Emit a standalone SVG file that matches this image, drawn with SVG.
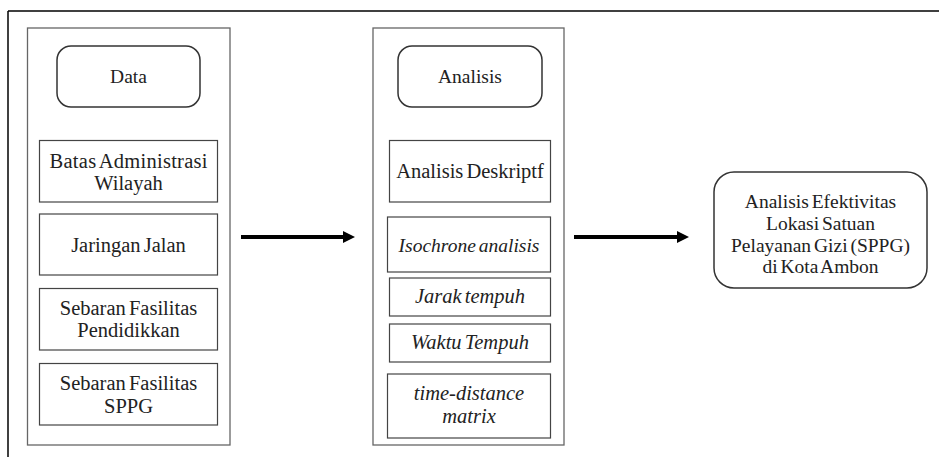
<svg xmlns="http://www.w3.org/2000/svg" width="939" height="457" viewBox="0 0 939 457">
<style>
.col{fill:#fff;stroke:#666;stroke-width:1.3}
.box{fill:#fff;stroke:#444;stroke-width:1.2}
.rbox{fill:#fff;stroke:#333;stroke-width:1.5}
.frame{stroke:#000;stroke-width:1.5;fill:none}
.conn{stroke:#000;stroke-width:4;fill:none}
text{font-family:"Liberation Serif","Times New Roman",serif;font-size:20.5px;fill:#222;text-anchor:middle;word-spacing:-2px}
.it{font-style:italic}
.sm{font-size:19.5px}
</style>
<defs>
<marker id="ah" markerWidth="4" markerHeight="4" refX="1" refY="2" orient="auto" markerUnits="strokeWidth">
<path d="M0,0.5 L3,2 L0,3.5 Z" fill="#000"/>
</marker>
</defs>
<g id="frame">
<line class="frame" x1="8" y1="11" x2="939" y2="11"/>
<line class="frame" x1="8" y1="11" x2="8" y2="457"/>
</g>
<g id="col-data">
<rect class="col" x="27.5" y="28" width="202.5" height="417"/>
</g>
<g id="col-analisis">
<rect class="col" x="373" y="28" width="191" height="417"/>
</g>
<g id="data">
<rect class="rbox" x="57" y="46" width="143" height="61" rx="14"/>
<text class="sm" x="128.5" y="83">Data</text>
</g>
<g id="batas">
<rect class="box" x="39.5" y="140.5" width="178" height="61.5"/>
<text x="128.5" y="168" textLength="158" lengthAdjust="spacing">Batas Administrasi</text>
<text x="128.5" y="190">Wilayah</text>
</g>
<g id="jaringan">
<rect class="box" x="39.5" y="214" width="178" height="61"/>
<text x="128.5" y="252">Jaringan Jalan</text>
</g>
<g id="pendidikan">
<rect class="box" x="39.5" y="288.5" width="178" height="61.5"/>
<text x="128.5" y="315">Sebaran Fasilitas</text>
<text x="128.5" y="337">Pendidikkan</text>
</g>
<g id="sppg">
<rect class="box" x="39.5" y="363.5" width="178" height="61.5"/>
<text x="128.5" y="390">Sebaran Fasilitas</text>
<text x="128.5" y="413">SPPG</text>
</g>
<g id="analisis">
<rect class="rbox" x="398" y="46" width="144" height="61" rx="14"/>
<text class="sm" x="470" y="83">Analisis</text>
</g>
<g id="deskriptif">
<rect class="box" x="389.5" y="140.5" width="161" height="61.5"/>
<text x="470" y="178">Analisis Deskriptf</text>
</g>
<g id="isochrone">
<rect class="box" x="387.5" y="217" width="163" height="55"/>
<text class="it sm" x="469" y="252">Isochrone analisis</text>
</g>
<g id="jarak">
<rect class="box" x="389.5" y="278" width="161" height="38"/>
<text class="it" x="470" y="303">Jarak tempuh</text>
</g>
<g id="waktu">
<rect class="box" x="389.5" y="324" width="161" height="38"/>
<text class="it" x="470" y="349">Waktu Tempuh</text>
</g>
<g id="matrix">
<rect class="box" x="387.5" y="374" width="163" height="64"/>
<text class="it" x="469" y="400">time-distance</text>
<text class="it" x="469" y="423">matrix</text>
</g>
<g id="hasil">
<rect class="rbox" x="714" y="172" width="213" height="116" rx="20"/>
<text class="sm" x="820.5" y="208">Analisis Efektivitas</text>
<text class="sm" x="820.5" y="230">Lokasi Satuan</text>
<text class="sm" x="820.5" y="252">Pelayanan Gizi (SPPG)</text>
<text class="sm" x="820.5" y="273">di Kota Ambon</text>
</g>
<g id="connectors">
<line class="conn" x1="241" y1="237" x2="347" y2="237" marker-end="url(#ah)"/>
<line class="conn" x1="574" y1="237" x2="681" y2="237" marker-end="url(#ah)"/>
</g>
</svg>
